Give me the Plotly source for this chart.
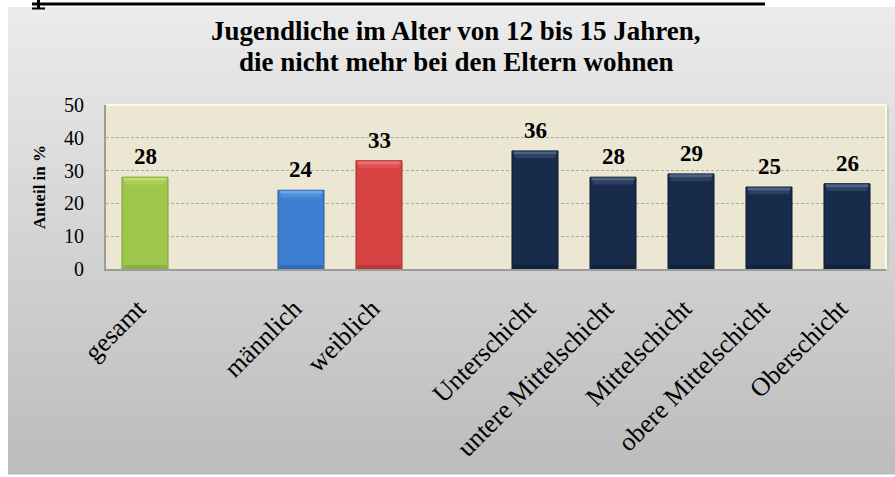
import plotly.graph_objects as go

# ---- data ----
categories = ["gesamt", "männlich", "weiblich", "Unterschicht", "untere Mittelschicht",
              "Mittelschicht", "obere Mittelschicht", "Oberschicht"]
positions = [0, 2, 3, 5, 6, 7, 8, 9]          # slot index on the category axis (gaps at 1 and 4)
values = [28, 24, 33, 36, 28, 29, 25, 26]
y_ticks = [0, 10, 20, 30, 40, 50]
title_lines = ["Jugendliche im Alter von 12 bis 15 Jahren,", "die nicht mehr bei den Eltern wohnen"]

NAVY = ("#182b4a", "#52698c", "#33496b", "#101f36", "#0e1c30")
palette = [
    ("#9dc74c", "#c6e070", "#b2d45e", "#86ab3c", "#7f9f3a"),
    ("#3d7fd1", "#6ea8ee", "#5593e0", "#2f66ad", "#2a5c9c"),
    ("#d84444", "#ef7070", "#e35858", "#b33333", "#a32b2a"),
    NAVY, NAVY, NAVY, NAVY, NAVY,
]
main_colors = [p[0] for p in palette]
light_colors = [p[1] for p in palette]
mid_colors = [p[2] for p in palette]
bottom_colors = [p[3] for p in palette]
line_colors = [p[4] for p in palette]

W, H = 895, 477
ML, MR, MT, MB = 106, 9, 105, 208
PW = W - ML - MR
PH = H - MT - MB

def px_x(px):
    return (px - ML) / PW

def px_y(py):
    return (H - MB - py) / PH

SERIF = "Liberation Serif, Times New Roman, serif"

fig = go.Figure()

fig.add_trace(go.Bar(
    x=positions, y=values, width=0.59,
    marker=dict(color=main_colors, line=dict(color=line_colors, width=1)),
    hoverinfo="skip",
))
# bevel layers (style only, derived from the values)
fig.add_trace(go.Bar(
    x=positions, y=[1.2] * len(values), base=[v - 2.2 for v in values], width=0.52,
    marker=dict(color=mid_colors, line=dict(width=0), opacity=0.75), hoverinfo="skip",
))
fig.add_trace(go.Bar(
    x=positions, y=[0.9] * len(values), base=[v - 1.05 for v in values], width=0.55,
    marker=dict(color=light_colors, line=dict(width=0), opacity=0.9), hoverinfo="skip",
))
fig.add_trace(go.Bar(
    x=positions, y=[1.1] * len(values), base=[0.1] * len(values), width=0.55,
    marker=dict(color=bottom_colors, line=dict(width=0), opacity=0.8), hoverinfo="skip",
))

annotations = []
for xp, v in zip(positions, values):
    annotations.append(dict(x=xp, y=v, xref="x", yref="y", text=str(v), showarrow=False,
                            yanchor="bottom", yshift=6,
                            font=dict(family=SERIF, size=23, color="black", weight="bold")))
for i, line in enumerate(title_lines):
    annotations.append(dict(x=px_x(456), y=px_y(48 + 31 * i), xref="paper", yref="paper",
                            text=line, showarrow=False, xanchor="center", yanchor="bottom",
                            font=dict(family=SERIF, size=27, color="black", weight="bold")))

shapes = []
# outer gray gradient box
n = 48
top_py, bot_py = 7, 474
c_top, c_bot = 236, 187
for i in range(n):
    y0p = top_py + (bot_py - top_py) * i / n
    y1p = top_py + (bot_py - top_py) * (i + 1) / n
    c = round(c_top + (c_bot - c_top) * (i + 0.5) / n)
    shapes.append(dict(type="rect", xref="paper", yref="paper", layer="below",
                       x0=px_x(8), x1=px_x(895), y0=px_y(y1p + 0.5), y1=px_y(y0p),
                       fillcolor=f"rgb({c},{c},{c})", line=dict(width=0)))
# plot area background
shapes.append(dict(type="rect", xref="paper", yref="paper", layer="below",
                   x0=0, x1=1, y0=0, y1=1, fillcolor="#ece7d3", line=dict(width=0)))
# plot area highlight border (top / right)
shapes.append(dict(type="line", xref="paper", yref="paper", x0=0, x1=1, y0=1, y1=1,
                   line=dict(color="#fbf8e6", width=2)))
shapes.append(dict(type="line", xref="paper", yref="paper", x0=1, x1=1, y0=0, y1=1,
                   line=dict(color="#fbf8e6", width=2)))
shapes.append(dict(type="line", xref="paper", yref="paper", x0=px_x(888), x1=px_x(888), y0=px_y(270), y1=px_y(106),
                   line=dict(color="#b8b8b0", width=1)))
# black line and glyph fragment at top of page
shapes.append(dict(type="line", xref="paper", yref="paper", x0=px_x(32), x1=px_x(765),
                   y0=px_y(4), y1=px_y(4), line=dict(color="black", width=3)))
shapes.append(dict(type="line", xref="paper", yref="paper", x0=px_x(38.5), x1=px_x(38.5),
                   y0=px_y(0), y1=px_y(9), line=dict(color="black", width=3)))
shapes.append(dict(type="line", xref="paper", yref="paper", x0=px_x(32), x1=px_x(45),
                   y0=px_y(8.5), y1=px_y(8.5), line=dict(color="black", width=2)))

fig.update_layout(
    width=W, height=H,
    margin=dict(l=ML, r=MR, t=MT, b=MB),
    paper_bgcolor="white", plot_bgcolor="rgba(0,0,0,0)",
    barmode="overlay", showlegend=False,
    shapes=shapes, annotations=annotations,
    xaxis=dict(
        range=[-0.5, 9.5], tickvals=positions, ticktext=categories, tickangle=-45,
        tickfont=dict(family=SERIF, size=26, color="black"),
        showgrid=False, zeroline=False, showline=True, linecolor="#9c9c9c", linewidth=2,
        ticks="", ticklabelstandoff=12, ticklabelshift=-7,
    ),
    yaxis=dict(
        range=[0, 50], tickvals=y_ticks,
        tickfont=dict(family=SERIF, size=20, color="black"),
        showgrid=True, gridcolor="#a8a8a8", gridwidth=1, griddash="3px,2px",
        zeroline=False, showline=True, linecolor="#9c9c9c", linewidth=2,
        ticks="", ticklabelstandoff=16,
        title=dict(text="Anteil in %", font=dict(family=SERIF, size=17, color="black", weight="bold"),
                   standoff=14),
    ),
)

fig.write_html("out.html", config={"displayModeBar": False},
               post_script="document.body.style.margin='0px';document.body.style.overflow='hidden';")
